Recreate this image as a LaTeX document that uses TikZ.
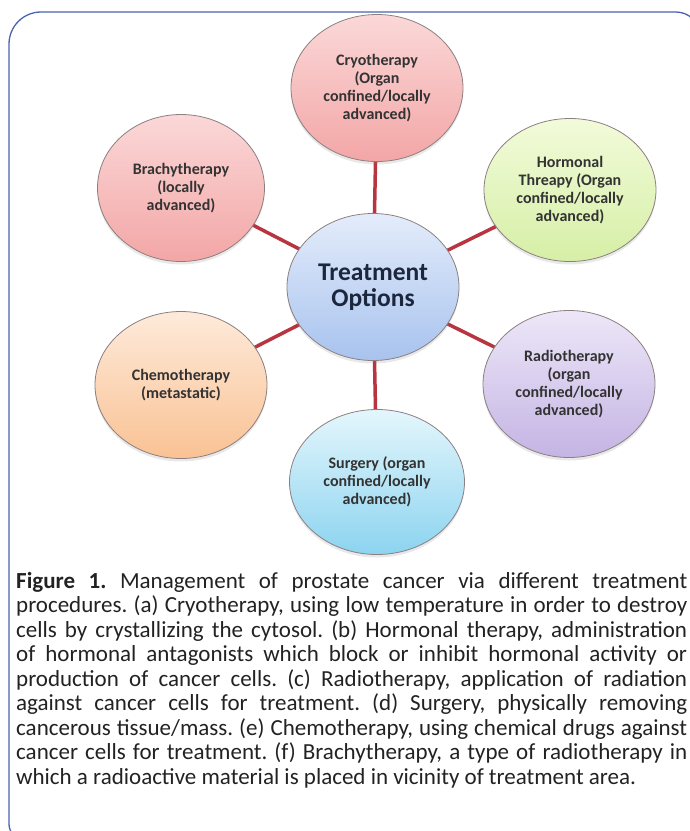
\documentclass[tikz,border=0pt]{standalone}
\usepackage{fontspec}
\setmainfont{Carlito}
\usetikzlibrary{shapes.geometric,backgrounds,shadows}
\definecolor{frame}{HTML}{4A62B0}
\definecolor{conn}{HTML}{B8343F}
\definecolor{edge}{HTML}{8C7F80}
\definecolor{txt}{HTML}{333333}
\definecolor{captxt}{HTML}{222222}
\tikzset{
  bub/.style={ellipse, draw=edge, line width=0.8pt, inner sep=0pt,
    minimum width=172pt, minimum height=147pt, align=center,
    font=\fontsize{16}{18}\selectfont\bfseries, text=txt,
    drop shadow={opacity=0.18, shadow xshift=0pt, shadow yshift=-3pt}},
  link/.style={draw=conn, line width=3.5pt},
}
\begin{document}
\begin{tikzpicture}[x=1pt,y=-1pt]
\useasboundingbox (0,0) rectangle (690,831);
\begin{scope}
\clip (0,0) rectangle (690,831);
\draw[frame, line width=1.3pt] (80,840) [rounded corners=16pt]-- (9,840) [rounded corners=32pt]-- (9,12) [rounded corners=24pt]-- (700,12) -- (700,60);
\node[bub, top color={rgb,255:red,251;green,216;blue,216}, bottom color={rgb,255:red,243;green,166;blue,166}] (cryo) at (377,88) {Cryotherapy\\(Organ\\confined/locally\\advanced)};
\node[bub, minimum width=167pt, top color={rgb,255:red,251;green,216;blue,216}, bottom color={rgb,255:red,243;green,166;blue,166}] (brachy) at (181,188) {Brachytherapy\\(locally\\advanced)};
\node[bub, minimum height=143pt, top color={rgb,255:red,242;green,251;blue,218}, bottom color={rgb,255:red,214;green,239;blue,166}] (horm) at (570,190) {Hormonal\\Threapy (Organ\\confined/locally\\advanced)};
\node[bub, top color={rgb,255:red,228;green,236;blue,251}, bottom color={rgb,255:red,168;green,195;blue,238}, font=\fontsize{25.5}{26}\selectfont\bfseries, text={rgb,255:red,28;green,38;blue,60}] (center) at (373,287) {Treatment\\Options};
\node[bub, top color={rgb,255:red,254;green,234;blue,218}, bottom color={rgb,255:red,249;green,194;blue,148}] (chemo) at (181,385) {Chemotherapy\\(metastatic)};
\node[bub, top color={rgb,255:red,237;green,231;blue,248}, bottom color={rgb,255:red,196;green,180;blue,228}] (radio) at (569,384) {Radiotherapy\\(organ\\confined/locally\\advanced)};
\node[bub, minimum width=175pt, minimum height=145pt, top color={rgb,255:red,228;green,246;blue,252}, bottom color={rgb,255:red,140;green,212;blue,240}] (surg) at (377,482) {Surgery (organ\\confined/locally\\advanced)};
\begin{scope}[on background layer]
\foreach \n in {cryo,brachy,horm,chemo,radio,surg}
  \draw[link] (center.center) -- (\n.center);
\end{scope}
\node[anchor=north west, inner sep=0pt, text width=671pt, align=justify, text=captxt,
  font=\fontsize{23}{24.5}\selectfont\frenchspacing] (cap) at (16,572) {%
\textbf{Figure 1.} Management of prostate cancer via different treatment\linebreak
procedures. (a) Cryotherapy, using low temperature in order to destroy\linebreak
cells by crystallizing the cytosol. (b) Hormonal therapy, administration\linebreak
of hormonal antagonists which block or inhibit hormonal activity or\linebreak
production of cancer cells. (c) Radiotherapy, application of radiation\linebreak
against cancer cells for treatment. (d) Surgery, physically removing\linebreak
cancerous tissue/mass. (e) Chemotherapy, using chemical drugs against\linebreak
cancer cells for treatment. (f) Brachytherapy, a type of radiotherapy in\linebreak
which a radioactive material is placed in vicinity of treatment area.};
\end{scope}
\end{tikzpicture}
\end{document}
